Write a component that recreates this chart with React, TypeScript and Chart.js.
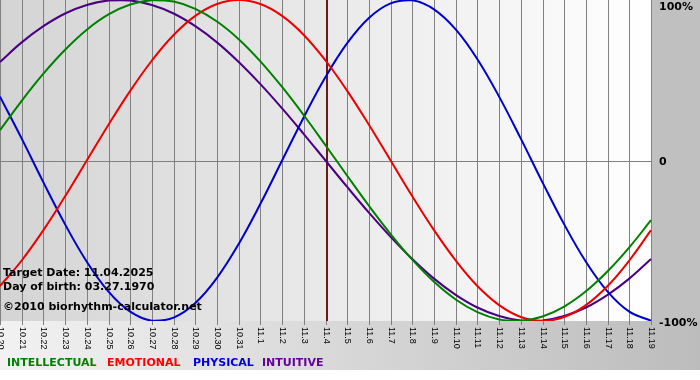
import { useEffect, useRef } from "react";
import { Chart, registerables } from "chart.js";

Chart.register(...registerables);

// Day labels (month.day)
const dayLabels = [
  "10.20", "10.21", "10.22", "10.23", "10.24", "10.25", "10.26", "10.27", "10.28", "10.29", "10.30", "10.31",
  "11.1", "11.2", "11.3", "11.4", "11.5", "11.6", "11.7", "11.8", "11.9", "11.10", "11.11", "11.12", "11.13",
  "11.14", "11.15", "11.16", "11.17", "11.18", "11.19",
];

// Series values in percent
const intellectual = [18.9, 37.2, 54.1, 69.0, 81.5, 91.0, 97.2, 99.9, 99.0, 94.5, 86.6, 75.6, 61.8, 45.8, 28.2, 9.5, -9.5, -28.2, -45.8, -61.8, -75.6, -86.6, -94.5, -99.0, -99.9, -97.2, -91.0, -81.5, -69.0, -54.1, -37.2];
const emotional = [-78.2, -62.3, -43.4, -22.3, 0, 22.3, 43.4, 62.3, 78.2, 90.1, 97.5, 100, 97.5, 90.1, 78.2, 62.3, 43.4, 22.3, 0, -22.3, -43.4, -62.3, -78.2, -90.1, -97.5, -100, -97.5, -90.1, -78.2, -62.3, -43.4];
const physical = [39.8, 13.6, -13.6, -39.8, -63.1, -81.7, -94.2, -99.8, -97.9, -88.8, -73.1, -52.0, -27.0, 0, 27.0, 52.0, 73.1, 88.8, 97.9, 99.8, 94.2, 81.7, 63.1, 39.8, 13.6, -13.6, -39.8, -63.1, -81.7, -94.2, -99.8];
const intuitive = [61.4, 73.6, 83.7, 91.6, 96.9, 99.7, 99.7, 96.9, 91.6, 83.7, 73.6, 61.4, 47.6, 32.5, 16.5, 0, -16.5, -32.5, -47.6, -61.4, -73.6, -83.7, -91.6, -96.9, -99.7, -99.7, -96.9, -91.6, -83.7, -73.6, -61.4];

const seriesNames = ["INTELLECTUAL", "EMOTIONAL", "PHYSICAL", "INTUITIVE"];
const seriesColors = ["#008000", "#ee0000", "#0000cc", "#4b0082"];
const legendColors = ["#008000", "#ff0000", "#0000dd", "#660099"];
const legendX = [7, 107, 193, 262];

const targetLabel = "11.4";
const yTickValues = [100, 0, -100];
const yTickLabels = ["100%", "0", "-100%"];
const infoLines = ["Target Date: 11.04.2025", "Day of birth: 03.27.1970", "©2010 biorhythm-calculator.net"];

const decorPlugin = {
  id: "decor",
  beforeDraw(chart: any) {
    const { ctx, chartArea, width } = chart;
    const { left, right, top, bottom } = chartArea;
    const xs = chart.scales.x;
    const ys = chart.scales.y;
    ctx.save();
    ctx.fillStyle = "#ffffff";
    ctx.fillRect(0, 0, chart.width, chart.height);

    // bottom strip
    const gb = ctx.createLinearGradient(0, 0, width, 0);
    gb.addColorStop(0, "#f2f2f2");
    gb.addColorStop(1, "#bcbcbc");
    ctx.fillStyle = gb;
    ctx.fillRect(0, bottom, width, 49);

    // right strip
    ctx.fillStyle = "#c0c0c0";
    ctx.fillRect(right, 0, width - right, bottom);

    // plot background
    const gp = ctx.createLinearGradient(left, 0, right, 0);
    gp.addColorStop(0, "#d4d4d4");
    gp.addColorStop(1, "#ffffff");
    ctx.fillStyle = gp;
    ctx.fillRect(left, top, right - left, bottom - top);

    // vertical grid lines + ticks
    ctx.strokeStyle = "#808080";
    ctx.lineWidth = 1;
    dayLabels.forEach((_, i) => {
      const x = Math.round(xs.getPixelForValue(i)) + 0.5;
      ctx.beginPath();
      ctx.moveTo(x, top);
      ctx.lineTo(x, bottom + 4);
      ctx.stroke();
    });

    // zero line
    const y0 = Math.round(ys.getPixelForValue(0)) + 0.5;
    ctx.beginPath();
    ctx.moveTo(left, y0);
    ctx.lineTo(right, y0);
    ctx.stroke();

    // target marker
    const ti = dayLabels.indexOf(targetLabel);
    const tx = Math.round(xs.getPixelForValue(ti)) + 1;
    ctx.strokeStyle = "#6e1818";
    ctx.lineWidth = 2;
    ctx.beginPath();
    ctx.moveTo(tx, top);
    ctx.lineTo(tx, bottom);
    ctx.stroke();

    // x labels rotated
    ctx.fillStyle = "#000000";
    ctx.font = "9px 'Liberation Sans', Arial, sans-serif";
    ctx.textAlign = "left";
    ctx.textBaseline = "middle";
    dayLabels.forEach((lab, i) => {
      const x = xs.getPixelForValue(i);
      ctx.save();
      ctx.translate(x + 0.5, bottom + 6);
      ctx.rotate(Math.PI / 2);
      ctx.fillText(lab, 0, 0);
      ctx.restore();
    });

    // y labels
    ctx.font = "bold 11px 'DejaVu Sans', sans-serif";
    ctx.fillStyle = "#000000";
    ctx.textBaseline = "middle";
    yTickValues.forEach((v, i) => {
      const y = Math.max(ys.getPixelForValue(v) + 2, 7);
      ctx.fillText(yTickLabels[i], right + 8, y);
    });

    // legend
    ctx.textBaseline = "alphabetic";
    seriesNames.forEach((n, i) => {
      ctx.fillStyle = legendColors[i];
      ctx.fillText(n, legendX[i], 366);
    });
    ctx.restore();
  },
  afterDatasetsDraw(chart: any) {
    const { ctx } = chart;
    ctx.save();
    ctx.font = "bold 11px 'DejaVu Sans', sans-serif";
    ctx.fillStyle = "#000000";
    ctx.textAlign = "left";
    ctx.textBaseline = "alphabetic";
    const baselines = [276, 290, 310];
    infoLines.forEach((t, i) => ctx.fillText(t, 3, baselines[i]));
    ctx.restore();
  },
};

export default function App() {
  const ref = useRef<HTMLCanvasElement | null>(null);
  useEffect(() => {
    if (!ref.current) return;
    const data = [intellectual, emotional, physical, intuitive];
    const chart = new Chart(ref.current, {
      type: "line",
      data: {
        labels: dayLabels,
        datasets: data.map((d, i) => ({
          label: seriesNames[i],
          data: d,
          borderColor: seriesColors[i],
          borderWidth: 2,
          pointRadius: 0,
          fill: false,
          tension: 0.4,
        })),
      },
      options: {
        responsive: false,
        animation: false,
        devicePixelRatio: 1,
        layout: { padding: { left: 0, right: 49, top: 0, bottom: 59 } },
        plugins: { legend: { display: false }, tooltip: { enabled: false } },
        scales: {
          x: { display: false },
          y: { display: false, min: -100, max: 100 },
        },
      },
      plugins: [decorPlugin],
    });
    return () => chart.destroy();
  }, []);
  return (
    <div style={{ position: "absolute", left: 0, top: 0, width: 700, height: 380 }}>
      <canvas ref={ref} width={700} height={380} />
    </div>
  );
}
